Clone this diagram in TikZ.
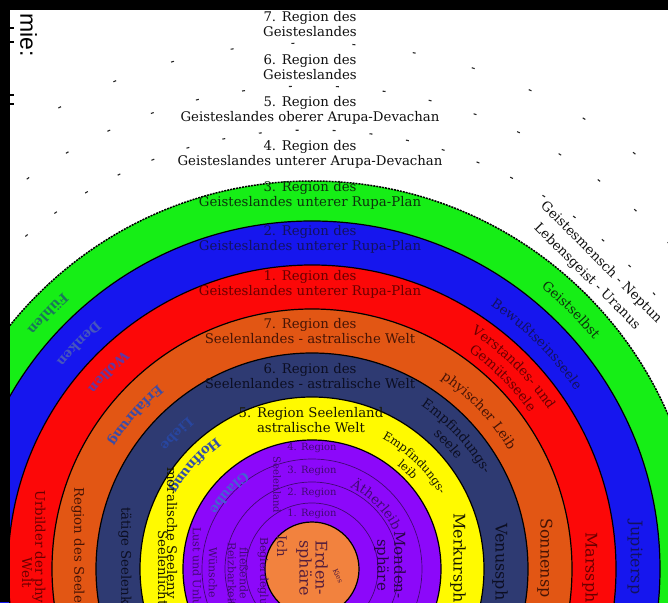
\documentclass[tikz,border=0pt]{standalone}
\usepackage{fontspec}
\setmainfont{DejaVu Serif}
\newfontfamily\miefont{Liberation Sans}
\usetikzlibrary{decorations.text}
\definecolor{cgreen}{RGB}{22,238,22}
\definecolor{cblue}{RGB}{22,22,238}
\definecolor{cred}{RGB}{252,8,8}
\definecolor{corange}{RGB}{226,86,20}
\definecolor{cnavy}{RGB}{46,58,114}
\definecolor{cyellow}{RGB}{255,250,0}
\definecolor{cpurple}{RGB}{140,8,250}
\definecolor{cearth}{RGB}{242,130,62}
\definecolor{tgreen}{RGB}{12,50,12}
\definecolor{tblue}{RGB}{18,18,95}
\definecolor{tred}{RGB}{105,0,0}
\definecolor{torange}{RGB}{70,20,5}
\definecolor{tnavy}{RGB}{12,14,34}
\definecolor{tyellow}{RGB}{25,25,0}
\definecolor{tpurple}{RGB}{66,8,115}
\definecolor{tearth}{RGB}{85,30,60}
\definecolor{tmond}{RGB}{40,5,70}
\definecolor{ldark}{RGB}{15,15,15}
\definecolor{lfuehlen}{RGB}{25,120,90}
\definecolor{ldenken}{RGB}{70,85,190}
\definecolor{lwollen}{RGB}{100,55,160}
\definecolor{lerfahrung}{RGB}{60,75,165}
\definecolor{lliebe}{RGB}{40,70,160}
\definecolor{lhoffnung}{RGB}{50,80,165}
\definecolor{lglaube}{RGB}{70,95,210}
\newcommand\fsA{\fontsize{13.3}{15}\selectfont}
\newcommand\fsB{\fontsize{10}{12}\selectfont}
\newcommand\fsC{\fontsize{11}{13}\selectfont}
\newcommand\fsD{\fontsize{16}{16}\selectfont}
\newcommand\fsE{\fontsize{11.5}{13}\selectfont}
\newcommand\cwtext[4]{\path[decorate,decoration={text along path,text align=center,text={#4}}] ({#2+#3}:#1) arc[start angle={#2+#3},end angle={#2-#3},radius=#1];}
\newcommand\ccwtext[4]{\path[decorate,decoration={text along path,text align=center,text={#4}}] ({#2-#3}:#1) arc[start angle={#2-#3},end angle={#2+#3},radius=#1];}
\begin{document}
\begin{tikzpicture}[x=1pt,y=1pt,
  ring/.style={draw=black,line width=1.2pt},
  thinring/.style={draw=tpurple,line width=0.7pt},
  sparse/.style={draw=black!85,line width=1.1pt},
  htxt/.style={font=\fsA,align=center,inner sep=0pt},
  vtxt/.style={rotate=-90,anchor=west,inner sep=0pt,font=\fsA},
  rtxt/.style={rotate=-90,anchor=west,inner sep=0pt,font=\fsD}]
\useasboundingbox (-312,-33) rectangle (356,569);
\fill[white] (-312,-33) rectangle (356,569);
% rings
\fill[cgreen] (0,0) circle (388);
\draw[line width=1.5pt,dash pattern=on 2pt off 1pt] (0,0) circle (388);
\filldraw[ring,fill=cblue] (0,0) circle (348);
\filldraw[ring,fill=cred] (0,0) circle (304);
\filldraw[ring,fill=corange] (0,0) circle (260);
\filldraw[ring,fill=cnavy] (0,0) circle (216);
\filldraw[ring,fill=cyellow] (0,0) circle (172);
\filldraw[ring,fill=cpurple] (0,0) circle (129);
\draw[thinring] (0,0) circle (110);
\draw[thinring] (0,0) circle (87);
\draw[thinring] (0,0) circle (66);
\filldraw[ring,fill=cearth] (0,0) circle (47);
% sparse dashed outer circles
\draw[sparse,dash pattern=on 3pt off 34pt] (0,0) circle (439);
\draw[sparse,dash pattern=on 3pt off 44pt,dash phase=20pt] (0,0) circle (483);
\draw[sparse,dash pattern=on 3pt off 58pt,dash phase=10pt] (0,0) circle (526);
% horizontal region labels
\node[htxt,text=ldark] (g7) at (-2,545) {7. Region des\\Geisteslandes};
\node[htxt,text=ldark] (g6) at (-2,502) {6. Region des\\Geisteslandes};
\node[htxt,text=ldark] (g5) at (-2,459) {5. Region des\\Geisteslandes oberer Arupa-Devachan};
\node[htxt,text=ldark] (g4) at (-2,415) {4. Region des\\Geisteslandes unterer Arupa-Devachan};
\node[htxt,text=tgreen] (g3) at (-2,374) {3. Region des\\Geisteslandes unterer Rupa-Plan};
\node[htxt,text=tblue] (g2) at (-2,330) {2. Region des\\Geisteslandes unterer Rupa-Plan};
\node[htxt,text=tred] (g1) at (-2,284.5) {1. Region des\\Geisteslandes unterer Rupa-Plan};
\node[htxt,text=torange] (s7) at (-2,237.5) {7. Region des\\Seelenlandes - astralische Welt};
\node[htxt,text=tnavy] (s6) at (-2,193) {6. Region des\\Seelenlandes - astralische Welt};
\node[htxt,text=tyellow] (s5) at (-1,148.5) {5. Region Seelenland\\astralische Welt};
\node[htxt,font=\fsB,text=tpurple] (p4) at (0,121) {4. Region};
\node[htxt,font=\fsB,text=tpurple] (p3) at (0,98) {3. Region};
\node[htxt,font=\fsB,text=tpurple] (p2) at (0,76) {2. Region};
\node[htxt,font=\fsB,text=tpurple] (p1) at (0,55) {1. Region};
% curved labels, right side
\cwtext{363}{45}{30}{|\fsA\color{tgreen}|Geistselbst}
\cwtext{318}{45}{30}{|\fsA\color{tblue}|Bewußtseinsseele}
\cwtext{285}{45}{35}{|\fsA\color{tred}|Verstandes- und}
\cwtext{268}{45}{35}{|\fsA\color{tred}|Gemütsseele}
\cwtext{230}{43.5}{35}{|\fsA\color{torange}|phyischer Leib}
\cwtext{196}{42.5}{40}{|\fsA\color{tnavy}|Empfindungs-}
\cwtext{181}{42.5}{40}{|\fsA\color{tnavy}|seele}
\cwtext{148}{46}{45}{|\fsE\color{tyellow}|Empfindungs-}
\cwtext{134}{46}{45}{|\fsE\color{tyellow}|leib}
\cwtext{90}{45}{50}{|\fsA\color{tpurple}|Ätherleib}
% curved labels, left side
\ccwtext{372}{136}{25}{|\bfseries\fsA\color{lfuehlen}|Fühlen}
\ccwtext{329}{136}{25}{|\bfseries\fsA\color{ldenken}|Denken}
\ccwtext{288}{136}{25}{|\bfseries\fsA\color{lwollen}|Wollen}
\ccwtext{240}{139}{30}{|\bfseries\fsA\color{lerfahrung}|Erfahrung}
\ccwtext{196}{135}{30}{|\bfseries\fsA\color{lliebe}|Liebe}
\ccwtext{163}{138.5}{35}{|\bfseries\fsA\color{lhoffnung}|Hoffnung}
\ccwtext{118}{137.5}{40}{|\bfseries\fsA\color{lglaube}|Glaube}
% outside labels
\node[htxt,rotate=-45,font=\fontsize{13.3}{20}\selectfont,text=ldark] (gm) at (282,299.5) {Geistesmensch - Neptun\\Lebensgeist - Uranus};
% vertical texts, left
\node[vtxt,text=tred] (urb) at (-273,79) {Urbilder der phy};
\node[vtxt,anchor=center,text=tred] (welt) at (-285,-4) {Welt};
\node[vtxt,text=torange] (rds) at (-234,82) {Region des Seele};
\node[vtxt,text=tnavy] (tsk) at (-187,62) {tätige Seelenk};
\node[vtxt,text=tyellow] (mor) at (-140,102) {moralische Seelenv};
\node[vtxt,text=tyellow] (sli) at (-149,39) {Seelenlicht};
\node[vtxt,font=\fsC,text=tpurple] (lust) at (-115,42) {Lust und Unlu};
\node[vtxt,anchor=center,font=\fsC,text=tpurple] (wue) at (-99,-4) {Wünsche};
\node[vtxt,font=\fsC,text=tpurple] (fli) at (-68,22) {fließende};
\node[vtxt,font=\fsC,text=tpurple] (rei) at (-80,27) {Reizbarkeit};
\node[vtxt,font=\fsC,text=tpurple] (beg) at (-49,32) {Begierdeglut};
\node[vtxt,anchor=center,font=\fsB,text=tpurple] (sland) at (-35,84) {Seelenland};
% vertical texts, right
\node[rtxt,text=tyellow] (mer) at (146,56) {Merkursph};
\node[rtxt,text=tnavy] (ven) at (188,46) {Venussph};
\node[rtxt,text=torange] (son) at (233,51) {Sonnensp};
\node[rtxt,text=tred] (mar) at (278,37) {Marssph};
\node[rtxt,text=tblue] (jup) at (323,49) {Jupitersp};
% inner
\node[rotate=-90,align=center,inner sep=0pt,font=\fsD,text=tearth] (erde) at (0,1) {Erden-\\sphäre};
\node[rotate=-90,inner sep=0pt,font=\fsA,text=tearth] (ich) at (-30,23) {Ich};
\node[rotate=-65,inner sep=0pt,font=\fontsize{7}{8}\selectfont,text=tearth] (kies) at (26,-7) {Kies};
\node[rotate=-90,align=center,inner sep=0pt,font=\fontsize{15}{17}\selectfont,text=tmond] (mond) at (78,4) {Monden-\\sphäre};
% frame
\fill[black] (-312,-33) rectangle (-302,569);
\fill[black] (-312,559) rectangle (356,569);
\foreach \yy in {541,527,474,465} {\draw[line width=1.5pt] (-303,\yy) -- (-298,\yy);}
\node[rotate=-90,inner sep=0pt,font=\miefont\fontsize{23}{25}\selectfont] (mie) at (-283.5,534) {mie:};
\end{tikzpicture}
\end{document}
